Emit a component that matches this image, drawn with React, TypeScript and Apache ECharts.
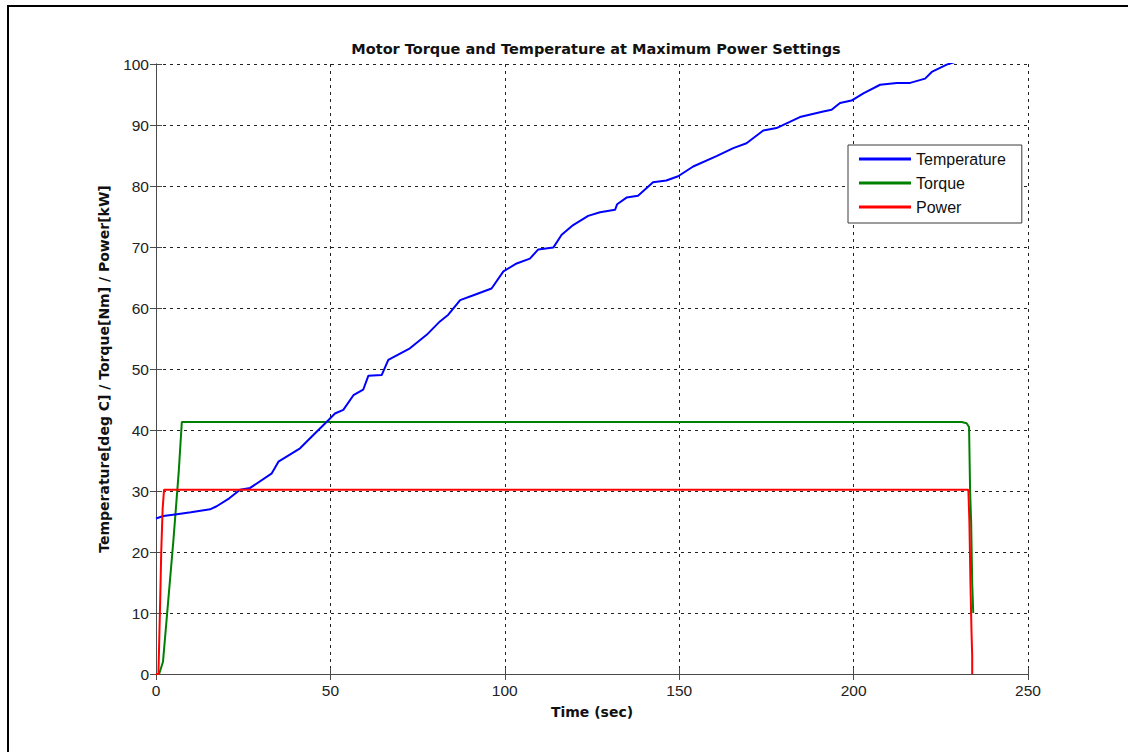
import React, { useEffect, useRef } from "react";
import * as echarts from "echarts";

const title = "Motor Torque and Temperature at Maximum Power Settings";
const xName = "Time (sec)";
const yName = "Temperature[deg C] / Torque[Nm] / Power[kW]";
const seriesNames = ["Temperature", "Torque", "Power"];

const tempTime = [0, 2.1, 6, 10, 15.5, 17.4, 21, 24.1, 27, 33.2, 35.1, 41.3, 44.1, 49.4, 51.3, 53.7, 56.6, 59.4, 60.9, 64.7, 66.6, 72.8, 77.6, 81.4, 83.8, 87.2, 91, 96.2, 99.6, 103.4, 107.2, 109.6, 113.9, 116.3, 119.6, 123.9, 127.3, 131.6, 132.2, 134.9, 138.2, 142.5, 146.3, 149.7, 154, 160.7, 165.5, 169.3, 174.1, 177.9, 181.7, 184.6, 191.3, 193.7, 196.1, 199.4, 202.8, 207.6, 212.4, 216.2, 220.5, 222.4, 226.7, 230, 234];
const tempValue = [25.5, 25.9, 26.2, 26.5, 27.0, 27.5, 28.8, 30.2, 30.5, 32.9, 34.8, 37.0, 38.6, 41.6, 42.7, 43.3, 45.7, 46.6, 48.9, 49.0, 51.5, 53.4, 55.6, 57.8, 58.9, 61.3, 62.1, 63.2, 66.0, 67.3, 68.1, 69.6, 69.9, 72.0, 73.6, 75.1, 75.7, 76.1, 77.0, 78.1, 78.4, 80.6, 80.9, 81.6, 83.2, 84.9, 86.2, 87.0, 89.1, 89.5, 90.5, 91.3, 92.2, 92.5, 93.6, 94.0, 95.2, 96.6, 96.9, 96.9, 97.6, 98.7, 99.9, 100.5, 101.2];

const torqueTime = [0, 0.9, 2, 3.5, 5, 6.5, 7.4, 231, 232.4, 233.1, 233.4, 233.7, 234.0, 234.3];
const torqueValue = [0, 0, 2, 12, 22, 33, 41.3, 41.3, 41.1, 40.5, 30, 25, 15, 10];

const powerTime = [0, 0.7, 1.2, 1.5, 1.9, 2.3, 232.9, 233.2, 233.5, 233.8, 234.0, 234.0];
const powerValue = [0, 0, 12, 20, 27, 30.2, 30.2, 25, 15, 7, 3, 0];

const xTicks = { min: 0, max: 250, interval: 50 };
const yTicks = { min: 0, max: 100, interval: 10 };

const pairs = (t: number[], v: number[]) => t.map((x, i) => [x, v[i]]);

export default function App() {
  const ref = useRef<HTMLDivElement>(null);
  useEffect(() => {
    document.body.style.margin = "0";
    if (!ref.current) return;
    const chart = echarts.init(ref.current, undefined, { renderer: "svg" });
    const font = "Arial, 'Liberation Sans', Helvetica, sans-serif";
    const boldFont = "'DejaVu Sans', Verdana, sans-serif";
    const axisLineStyle = { color: "#4a4a4a", width: 1 };
    const baseX = {
      type: "value" as const,
      min: xTicks.min,
      max: xTicks.max,
      interval: xTicks.interval,
    };
    const baseY = {
      type: "value" as const,
      min: yTicks.min,
      max: yTicks.max,
      interval: yTicks.interval,
    };
    chart.setOption({
      animation: false,
      backgroundColor: "#ffffff",
      title: {
        text: title,
        left: 591,
        textAlign: "center",
        top: 36,
        textStyle: { fontFamily: boldFont, fontSize: 14.5, fontWeight: "bold", color: "#111" },
      },
      graphic: [
        {
          type: "rect",
          shape: { x: 8, y: 6, width: 1200, height: 800 },
          style: { fill: "none", stroke: "#000", lineWidth: 2 },
          silent: true,
          z: 100,
        },
      ],
      legend: {
        orient: "vertical",
        left: 848,
        top: 145,
        data: seriesNames,
        icon: "rect",
        itemWidth: 52,
        itemHeight: 3,
        itemGap: 8,
        padding: [6, 16, 8, 11],
        backgroundColor: "#ffffff",
        borderColor: "#3a3a3a",
        borderWidth: 1,
        textStyle: { fontFamily: font, fontSize: 16, color: "#111", lineHeight: 16 },
      },
      grid: { left: 156, top: 64, right: 100, bottom: 78, containLabel: false },
      xAxis: [
        {
          ...baseX,
          position: "bottom",
          name: xName,
          nameLocation: "middle",
          nameGap: 31,
          nameTextStyle: { fontFamily: boldFont, fontSize: 14, fontWeight: "bold", color: "#111" },
          axisLine: { show: true, lineStyle: axisLineStyle },
          axisTick: { show: true, inside: true, length: 6, lineStyle: axisLineStyle },
          axisLabel: { fontFamily: font, fontSize: 15.5, color: "#222", margin: 8 },
          splitLine: { show: true, lineStyle: { color: "#222", type: [3, 4], width: 1 } },
        },
        {
          ...baseX,
          position: "top",
          axisLine: { show: true, lineStyle: axisLineStyle },
          axisTick: { show: true, inside: true, length: 6, lineStyle: axisLineStyle },
          axisLabel: { show: false },
          splitLine: { show: false },
        },
      ],
      yAxis: [
        {
          ...baseY,
          position: "left",
          name: yName,
          nameLocation: "middle",
          nameGap: 45,
          nameTextStyle: { fontFamily: boldFont, fontSize: 14, fontWeight: "bold", color: "#111" },
          axisLine: { show: true, lineStyle: axisLineStyle },
          axisTick: { show: true, inside: true, length: 6, lineStyle: axisLineStyle },
          axisLabel: { fontFamily: font, fontSize: 15.5, color: "#222", margin: 7 },
          splitLine: { show: true, lineStyle: { color: "#222", type: [3, 4], width: 1 } },
        },
        {
          ...baseY,
          position: "right",
          axisLine: { show: true, lineStyle: axisLineStyle },
          axisTick: { show: true, inside: true, length: 6, lineStyle: axisLineStyle },
          axisLabel: { show: false },
          splitLine: { show: false },
        },
      ],
      series: [
        {
          name: seriesNames[0],
          type: "line",
          data: pairs(tempTime, tempValue),
          showSymbol: false,
          symbol: "none",
          clip: true,
          lineStyle: { color: "#0000ff", width: 2 },
          itemStyle: { color: "#0000ff" },
          z: 4,
        },
        {
          name: seriesNames[1],
          type: "line",
          data: pairs(torqueTime, torqueValue),
          showSymbol: false,
          symbol: "none",
          clip: true,
          lineStyle: { color: "#008000", width: 2 },
          itemStyle: { color: "#008000" },
          z: 3,
        },
        {
          name: seriesNames[2],
          type: "line",
          data: pairs(powerTime, powerValue),
          showSymbol: false,
          symbol: "none",
          clip: true,
          lineStyle: { color: "#ff0000", width: 2 },
          itemStyle: { color: "#ff0000" },
          z: 5,
        },
      ],
    });
    return () => chart.dispose();
  }, []);
  return <div ref={ref} style={{ width: 1128, height: 752 }} />;
}
